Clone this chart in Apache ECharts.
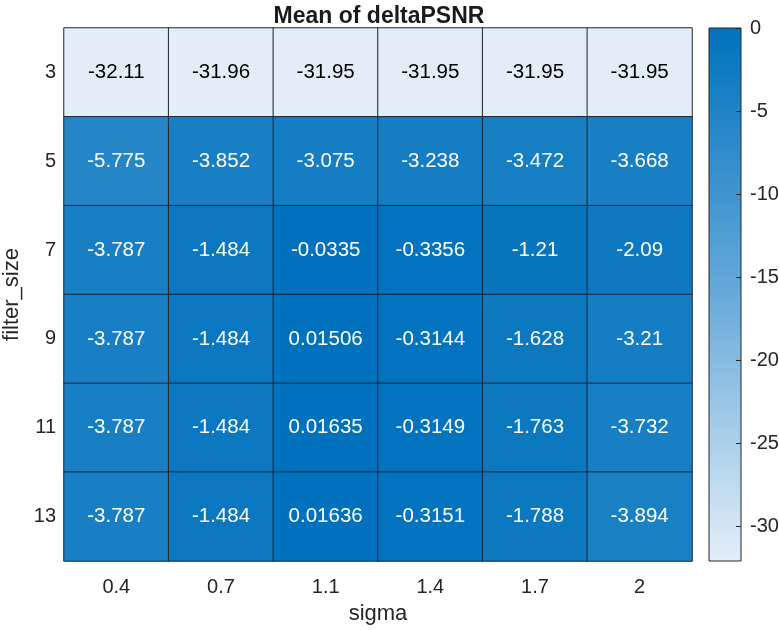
<!DOCTYPE html>
<html>
<head>
<meta charset="utf-8">
<script src="https://cdn.jsdelivr.net/npm/echarts@6/dist/echarts.min.js"></script>
<style>html,body{margin:0;padding:0;background:#fff;}#c{width:779px;height:630px;}</style>
</head>
<body>
<div id="c"></div>
<script>
const sigmaLabels = ['0.4', '0.7', '1.1', '1.4', '1.7', '2'];
const filterSizes = ['3', '5', '7', '9', '11', '13'];
const row3  = [-32.11, -31.96, -31.95, -31.95, -31.95, -31.95];
const row5  = [-5.775, -3.852, -3.075, -3.238, -3.472, -3.668];
const row7  = [-3.787, -1.484, -0.0335, -0.3356, -1.21, -2.09];
const row9  = [-3.787, -1.484, 0.01506, -0.3144, -1.628, -3.21];
const row11 = [-3.787, -1.484, 0.01635, -0.3149, -1.763, -3.732];
const row13 = [-3.787, -1.484, 0.01636, -0.3151, -1.788, -3.894];
const rows = [row3, row5, row7, row9, row11, row13];
const colorbarTicks = [0, -5, -10, -15, -20, -25, -30];

const FONT = "'Liberation Sans', Arial, Helvetica, sans-serif";
const TXT = '#262626';
const LIGHT = '#E3EEF8', MID = '#67AADA', DARK = '#0072BD';

let all = [];
rows.forEach(r => r.forEach(v => all.push(v)));
const vmin = Math.min(...all), vmax = Math.max(...all);

const data = [];
rows.forEach((r, yi) => r.forEach((v, xi) => {
  const dark = (v - vmin) / (vmax - vmin) > 0.5;
  data.push({ value: [xi, yi, v], label: { color: dark ? '#ffffff' : '#000000' } });
}));

function fmt(v) { return String(Number(v.toPrecision(4))); }

const chart = echarts.init(document.getElementById('c'), null, { renderer: 'canvas' });
chart.setOption({
  animation: false,
  backgroundColor: '#ffffff',
  textStyle: { fontFamily: FONT },
  title: {
    text: 'Mean of deltaPSNR',
    left: 374, top: 0, textAlign: 'center',
    textStyle: { fontSize: 23, fontWeight: 'bold', color: '#1a1a1a', fontFamily: FONT }
  },
  grid: [
    { left: 64, top: 28, width: 628, height: 533, containLabel: false, outerBoundsMode: 'none' },
    { left: 709, top: 28, width: 32, height: 533, containLabel: false, outerBoundsMode: 'none' }
  ],
  xAxis: [
    {
      type: 'category', gridIndex: 0, data: sigmaLabels,
      name: 'sigma', nameLocation: 'middle', nameGap: 42,
      nameTextStyle: { fontSize: 22, color: TXT, fontFamily: FONT },
      axisLine: { show: false }, axisTick: { show: false }, splitLine: { show: false },
      axisLabel: { fontSize: 20, color: TXT, margin: 16, fontFamily: FONT }
    },
    { type: 'category', gridIndex: 1, data: [''], show: false }
  ],
  yAxis: [
    {
      type: 'category', gridIndex: 0, data: filterSizes, inverse: true,
      name: 'filter_size', nameLocation: 'middle', nameGap: 39, nameRotate: 90,
      nameTextStyle: { fontSize: 22, color: TXT, fontFamily: FONT },
      axisLine: { show: false }, axisTick: { show: false }, splitLine: { show: false },
      axisLabel: { fontSize: 20, color: TXT, margin: 8, fontFamily: FONT }
    },
    {
      type: 'value', gridIndex: 1, position: 'right', min: vmin, max: vmax,
      splitNumber: 5, z: 5,
      axisLine: { show: false },
      axisTick: { show: true, inside: true, length: 5, lineStyle: { color: TXT, width: 1 } },
      splitLine: { show: false },
      axisLabel: {
        fontSize: 20, color: TXT, margin: 9, fontFamily: FONT,
        showMinLabel: false, showMaxLabel: false,
        formatter: v => (colorbarTicks.indexOf(Math.round(v * 1000) / 1000) >= 0 ? String(Math.round(v)) : '')
      }
    }
  ],
  visualMap: {
    show: false, seriesIndex: 0, min: vmin, max: vmax, dimension: 2,
    inRange: { color: [LIGHT, MID, DARK] }
  },
  series: [
    {
      type: 'heatmap', xAxisIndex: 0, yAxisIndex: 0, data: data,
      itemStyle: { borderColor: '#1f2630', borderWidth: 1 },
      label: { show: true, fontSize: 20.5, fontFamily: FONT, formatter: p => fmt(p.value[2]) },
      emphasis: { disabled: true }
    },
    {
      type: 'custom', xAxisIndex: 1, yAxisIndex: 1, z: 1, silent: true,
      data: [[0, vmin, vmax]],
      renderItem: function (params, api) {
        const top = api.coord([0, api.value(2)]);
        const bot = api.coord([0, api.value(1)]);
        const w = api.size([1, 0])[0];
        return {
          type: 'rect',
          shape: { x: top[0] - w / 2, y: top[1], width: w, height: bot[1] - top[1] },
          style: {
            fill: new echarts.graphic.LinearGradient(0, 0, 0, 1, [
              { offset: 0, color: DARK }, { offset: 0.5, color: MID }, { offset: 1, color: LIGHT }
            ]),
            stroke: TXT, lineWidth: 1
          }
        };
      }
    }
  ]
});
</script>
</body>
</html>
